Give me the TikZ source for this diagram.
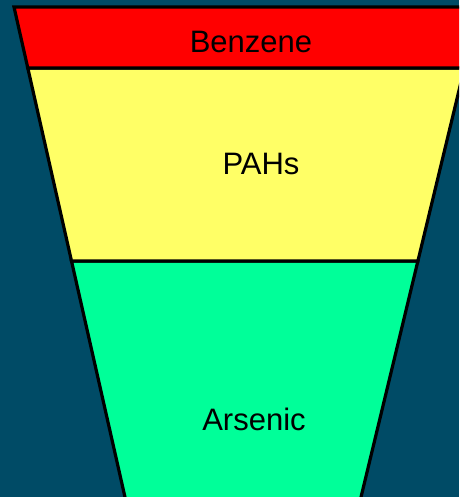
\documentclass[tikz,border=0pt]{standalone}
\usepackage{fontspec}
\setmainfont{Liberation Sans}
\definecolor{bgteal}{RGB}{0,75,102}
\definecolor{bandred}{RGB}{255,0,0}
\definecolor{bandyellow}{RGB}{255,255,102}
\definecolor{bandgreen}{RGB}{0,255,153}
\tikzset{
  band/.style={draw=black, line width=3.2pt, line join=miter},
  label/.style={anchor=base, inner sep=0pt, font=\fontsize{31}{37}\selectfont, text=black}
}
\begin{document}
\begin{tikzpicture}[x=1pt, y=-1pt]
  \useasboundingbox (0,0) rectangle (459,497);
  \fill[bgteal] (0,0) rectangle (459,497);
  \begin{scope}
    \clip (0,0) rectangle (459,497);
    % funnel edges: left (14,7)->(128,510), right (479,7)->(358,510)
    \coordinate (tl) at (14,7);
    \coordinate (tr) at (479.1,7);
    \coordinate (ml1) at (27.8,68);
    \coordinate (mr1) at (464.4,68);
    \coordinate (ml2) at (71.5,261);
    \coordinate (mr2) at (417.9,261);
    \coordinate (bl) at (127.9,510);
    \coordinate (br) at (357.9,510);
    \filldraw[band, fill=bandgreen] (ml2) -- (mr2) -- (br) -- (bl) -- cycle;
    \filldraw[band, fill=bandyellow] (ml1) -- (mr1) -- (mr2) -- (ml2) -- cycle;
    \filldraw[band, fill=bandred] (tl) -- (tr) -- (mr1) -- (ml1) -- cycle;
  \end{scope}
  \node[label] (benzene) at (251,52.3) {Benzene};
  \node[label] (pahs) at (261,174.3) {PAHs};
  \node[label] (arsenic) at (254,430) {Arsenic};
\end{tikzpicture}
\end{document}
